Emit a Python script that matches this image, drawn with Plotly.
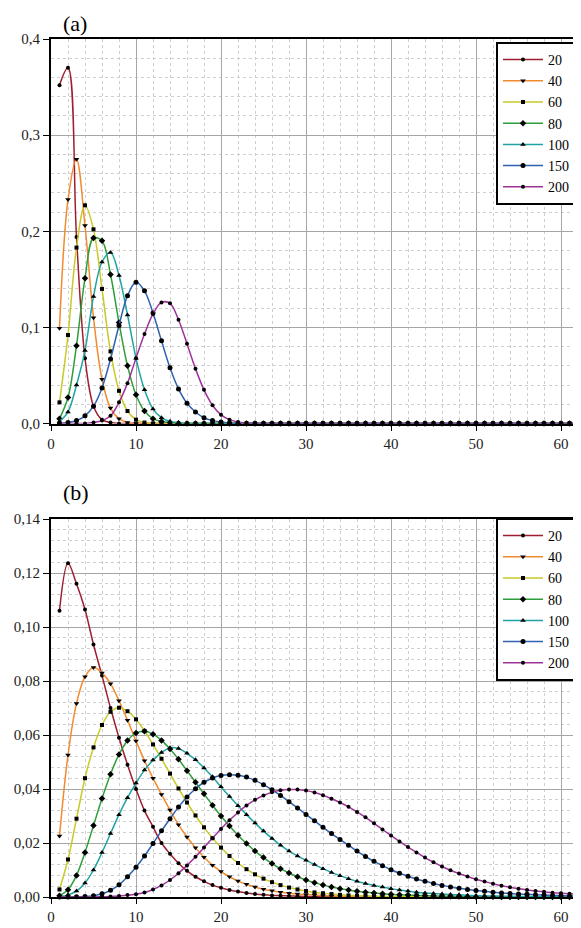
import plotly.graph_objects as go

x = list(range(1, 63))
names = ["20", "40", "60", "80", "100", "150", "200"]
colors = ["#9e1f2f", "#f28a2e", "#c9c928", "#2e9e3a", "#1fa3a3", "#2f62b0", "#a0329b"]
symbols = ["circle", "triangle-down", "square", "diamond", "triangle-up", "circle", "circle"]
msizes = [4, 5, 4, 5, 5, 5, 4]

# Panel (a)
a20 = [0.352, 0.370, 0.194, 0.068, 0.018, 0.004, 0.001,
       0, 0, 0, 0, 0, 0, 0, 0, 0, 0, 0, 0, 0, 0, 0, 0, 0, 0, 0, 0, 0, 0, 0, 0,
       0, 0, 0, 0, 0, 0, 0, 0, 0, 0, 0, 0, 0, 0, 0, 0, 0, 0, 0, 0, 0, 0, 0, 0,
       0, 0, 0, 0, 0, 0, 0]
a40 = [0.099, 0.233, 0.275, 0.206, 0.110, 0.046, 0.016, 0.005, 0.001,
       0, 0, 0, 0, 0, 0, 0, 0, 0, 0, 0, 0, 0, 0, 0, 0, 0, 0, 0, 0, 0, 0,
       0, 0, 0, 0, 0, 0, 0, 0, 0, 0, 0, 0, 0, 0, 0, 0, 0, 0, 0, 0, 0, 0, 0, 0,
       0, 0, 0, 0, 0, 0, 0]
a60 = [0.022, 0.092, 0.183, 0.227, 0.202, 0.140, 0.075, 0.034, 0.013, 0.004, 0.001,
       0, 0, 0, 0, 0, 0, 0, 0, 0, 0, 0, 0, 0, 0, 0, 0, 0, 0, 0, 0,
       0, 0, 0, 0, 0, 0, 0, 0, 0, 0, 0, 0, 0, 0, 0, 0, 0, 0, 0, 0, 0, 0, 0, 0,
       0, 0, 0, 0, 0, 0, 0]
a80 = [0.005, 0.027, 0.081, 0.151, 0.193, 0.190, 0.155, 0.105, 0.060, 0.030,
       0.013, 0.005, 0.002, 0.001,
       0, 0, 0, 0, 0, 0, 0, 0, 0, 0, 0, 0, 0, 0, 0, 0, 0,
       0, 0, 0, 0, 0, 0, 0, 0, 0, 0, 0, 0, 0, 0, 0, 0, 0, 0, 0, 0, 0, 0, 0, 0,
       0, 0, 0, 0, 0, 0, 0]
a100 = [0.002, 0.012, 0.040, 0.076, 0.132, 0.168, 0.178, 0.154, 0.113, 0.068,
        0.035, 0.015, 0.006, 0.002, 0.001,
        0, 0, 0, 0, 0, 0, 0, 0, 0, 0, 0, 0, 0, 0, 0, 0,
        0, 0, 0, 0, 0, 0, 0, 0, 0, 0, 0, 0, 0, 0, 0, 0, 0, 0, 0, 0, 0, 0, 0, 0,
        0, 0, 0, 0, 0, 0, 0]
a150 = [0, 0.001, 0.003, 0.008, 0.018, 0.037, 0.067, 0.102, 0.133, 0.147,
        0.138, 0.115, 0.086, 0.058, 0.036, 0.021, 0.012, 0.006, 0.003, 0.0015,
        0.0005,
        0, 0, 0, 0, 0, 0, 0, 0, 0, 0,
        0, 0, 0, 0, 0, 0, 0, 0, 0, 0, 0, 0, 0, 0, 0, 0, 0, 0, 0, 0, 0, 0, 0, 0,
        0, 0, 0, 0, 0, 0, 0]
a200 = [0, 0, 0, 0, 0.001, 0.003, 0.008, 0.022, 0.042, 0.068,
        0.093, 0.114, 0.126, 0.125, 0.108, 0.083, 0.057, 0.035, 0.019, 0.009,
        0.004, 0.0015, 0.0005,
        0, 0, 0, 0, 0, 0, 0, 0,
        0, 0, 0, 0, 0, 0, 0, 0, 0, 0, 0, 0, 0, 0, 0, 0, 0, 0, 0, 0, 0, 0, 0, 0,
        0, 0, 0, 0, 0, 0, 0]

# Panel (b)
b20 = [0.106, 0.1236, 0.116, 0.1065, 0.0935, 0.082, 0.070, 0.059, 0.049, 0.040,
       0.032, 0.026, 0.020, 0.016, 0.0125, 0.0097, 0.0075, 0.0058, 0.0044, 0.0034,
       0.0026, 0.0020, 0.0015, 0.0011, 0.0008, 0.0006, 0.0005, 0.0004, 0.0003, 0.0002,
       0.0002, 0.0001, 0.0001, 0.0001, 0, 0, 0, 0, 0, 0,
       0, 0, 0, 0, 0, 0, 0, 0, 0, 0, 0, 0, 0, 0, 0, 0, 0, 0, 0, 0, 0, 0]
b40 = [0.0226, 0.0526, 0.0717, 0.0816, 0.0850, 0.0830, 0.0790, 0.0727, 0.0655, 0.0578,
       0.0505, 0.0440, 0.0380, 0.0322, 0.0268, 0.0222, 0.0182, 0.0147, 0.0118, 0.0094,
       0.0075, 0.0059, 0.0047, 0.0037, 0.0029, 0.0023, 0.0018, 0.0014, 0.0011, 0.0009,
       0.0007, 0.0005, 0.0004, 0.0003, 0.0003, 0.0002, 0.0002, 0.0001, 0.0001, 0.0001,
       0, 0, 0, 0, 0, 0, 0, 0, 0, 0, 0, 0, 0, 0, 0, 0, 0, 0, 0, 0, 0, 0]
b60 = [0.0028, 0.0139, 0.0290, 0.0440, 0.0554, 0.0637, 0.0686, 0.0701, 0.0688, 0.0658,
       0.0615, 0.0565, 0.0512, 0.0457, 0.0402, 0.0350, 0.0302, 0.0258, 0.0218, 0.0183,
       0.0152, 0.0126, 0.0103, 0.0084, 0.0068, 0.0055, 0.0044, 0.0035, 0.0028, 0.0022,
       0.0017, 0.0014, 0.0011, 0.0008, 0.0006, 0.0005, 0.0004, 0.0003, 0.0002, 0.0002,
       0.0001, 0.0001, 0.0001, 0, 0, 0, 0, 0, 0, 0, 0, 0, 0, 0, 0, 0, 0, 0, 0, 0, 0, 0]
b80 = [0.0005, 0.0027, 0.0080, 0.0165, 0.0265, 0.0365, 0.0455, 0.0528, 0.0580, 0.0607,
       0.0614, 0.0603, 0.0580, 0.0548, 0.0510, 0.0468, 0.0425, 0.0382, 0.0340, 0.0300,
       0.0263, 0.0229, 0.0198, 0.0170, 0.0146, 0.0124, 0.0105, 0.0089, 0.0075, 0.0063,
       0.0053, 0.0044, 0.0037, 0.0031, 0.0026, 0.0021, 0.0018, 0.0015, 0.0012, 0.0010,
       0.0008, 0.0007, 0.0006, 0.0005, 0.0004, 0.0003, 0.0003, 0.0002, 0.0002, 0.0001,
       0.0001, 0.0001, 0, 0, 0, 0, 0, 0, 0, 0, 0, 0]
b100 = [0.0001, 0.0008, 0.0022, 0.0052, 0.0100, 0.0165, 0.0235, 0.0305, 0.0368, 0.0422,
        0.0470, 0.0507, 0.0535, 0.0553, 0.0550, 0.0532, 0.0508, 0.0478, 0.0445, 0.0408,
        0.0372, 0.0338, 0.0305, 0.0274, 0.0244, 0.0217, 0.0192, 0.0170, 0.0152, 0.0136,
        0.0120, 0.0105, 0.0091, 0.0079, 0.0068, 0.0058, 0.0050, 0.0043, 0.0037, 0.0031,
        0.0026, 0.0022, 0.0018, 0.0015, 0.0013, 0.0011, 0.0009, 0.0008, 0.0006, 0.0005,
        0.0004, 0.0004, 0.0003, 0.0003, 0.0002, 0.0002, 0.0001, 0.0001, 0.0001, 0.0001,
        0, 0]
b150 = [0, 0, 0.0001, 0.0002, 0.0005, 0.0012, 0.0025, 0.0045, 0.0075, 0.0110,
        0.0152, 0.0198, 0.0245, 0.0290, 0.0333, 0.0370, 0.0401, 0.0425, 0.0441, 0.0450,
        0.0453, 0.0451, 0.0444, 0.0432, 0.0416, 0.0397, 0.0376, 0.0353, 0.0330, 0.0306,
        0.0282, 0.0258, 0.0235, 0.0213, 0.0192, 0.0170, 0.0150, 0.0132, 0.0116, 0.0101,
        0.0088, 0.0077, 0.0067, 0.0058, 0.0050, 0.0043, 0.0037, 0.0032, 0.0028, 0.0024,
        0.0021, 0.0018, 0.0015, 0.0013, 0.0011, 0.0010, 0.0008, 0.0007, 0.0006, 0.0005,
        0.0004, 0.0004]
b200 = [0, 0, 0, 0, 0, 0.0001, 0.0002, 0.0004, 0.0007, 0.0010,
        0.0017, 0.0028, 0.0043, 0.0063, 0.0088, 0.0117, 0.0149, 0.0183, 0.0218, 0.0252,
        0.0284, 0.0313, 0.0339, 0.0360, 0.0376, 0.0388, 0.0395, 0.0398, 0.0398, 0.0394,
        0.0387, 0.0377, 0.0364, 0.0350, 0.0334, 0.0315, 0.0295, 0.0273, 0.0250, 0.0228,
        0.0206, 0.0185, 0.0165, 0.0146, 0.0129, 0.0113, 0.0099, 0.0087, 0.0076, 0.0066,
        0.0057, 0.0049, 0.0042, 0.0036, 0.0031, 0.0026, 0.0022, 0.0019, 0.0016, 0.0014,
        0.0012, 0.0010]

series_a = [a20, a40, a60, a80, a100, a150, a200]
series_b = [b20, b40, b60, b80, b100, b150, b200]

FONT = "Liberation Serif, Times New Roman, DejaVu Serif, Noto Serif, serif"
# page body has an 8px margin: figure is placed at (8, 8)
OFF = 8
W, H = 581 - OFF, 928 - OFF
ML, MR, MT, MB = 51 - OFF, 0, 39 - OFF, 31
plot_h = H - MT - MB
plot_w = W - ML - MR

def py(p):
    # reference page pixel y -> paper fraction
    return (928 - MB - p) / plot_h

def px(p):
    return (p - 51) / plot_w

fig = go.Figure()
for i in range(7):
    fig.add_trace(go.Scatter(
        x=x, y=series_a[i], name=names[i], mode="lines+markers",
        line=dict(color=colors[i], width=1.5, shape="spline", smoothing=1.0),
        marker=dict(color="black", symbol=symbols[i], size=msizes[i]),
        xaxis="x", yaxis="y", legend="legend", cliponaxis=False))
for i in range(7):
    fig.add_trace(go.Scatter(
        x=x, y=series_b[i], name=names[i], mode="lines+markers",
        line=dict(color=colors[i], width=1.5, shape="spline", smoothing=1.0),
        marker=dict(color="black", symbol=symbols[i], size=msizes[i]),
        xaxis="x2", yaxis="y2", legend="legend2", cliponaxis=False))

xrange_ = [0, plot_w / 8.5]
common_x = dict(range=xrange_, dtick=10, tick0=0, showgrid=True, gridcolor="#a6a6a6",
                gridwidth=1, showline=True, linecolor="black", linewidth=2, mirror=True,
                ticks="outside", ticklen=5, tickcolor="black", zeroline=False,
                tickfont=dict(family=FONT, size=15, color="#222"),
                minor=dict(dtick=2, showgrid=True, gridcolor="#cfcfcf", griddash="dot",
                           gridwidth=1))
common_y = dict(showgrid=True, gridcolor="#a6a6a6", gridwidth=1, showline=True,
                linecolor="black", linewidth=2, ticks="outside", ticklen=6,
                tickcolor="black", zeroline=False,
                tickfont=dict(family=FONT, size=15, color="#222"))

dom_a = [py(423.5), 1.0]
dom_b = [0.0, py(519)]

leg_common = dict(xanchor="left", yanchor="top", bgcolor="white", bordercolor="black",
                  borderwidth=2, font=dict(family=FONT, size=14, color="black"),
                  tracegroupgap=0, itemwidth=40)

fig.update_layout(
    width=W, height=H, margin=dict(l=ML, r=MR, t=MT, b=MB),
    paper_bgcolor="white", plot_bgcolor="white", separators=",.",
    font=dict(family=FONT),
    xaxis=dict(**common_x, domain=[0, 1], anchor="y"),
    yaxis=dict(**common_y, domain=dom_a, range=[0, 0.4], dtick=0.1, tickformat=".1f",
               minor=dict(dtick=0.02, showgrid=True, gridcolor="#cfcfcf", griddash="dot")),
    xaxis2=dict(**common_x, domain=[0, 1], anchor="y2"),
    yaxis2=dict(**common_y, domain=dom_b, range=[0, 0.14], dtick=0.02, tickformat=".2f",
                minor=dict(dtick=0.004, showgrid=True, gridcolor="#cfcfcf", griddash="dot")),
    legend=dict(x=px(496), y=py(42), **leg_common),
    legend2=dict(x=px(496), y=py(518), **leg_common),
    annotations=[
        dict(text="(a)", x=px(61), y=py(9), xref="paper", yref="paper",
             xanchor="left", yanchor="top", showarrow=False,
             font=dict(family=FONT, size=22, color="black")),
        dict(text="(b)", x=px(61), y=py(493), xref="paper", yref="paper",
             xanchor="left", yanchor="middle", showarrow=False,
             font=dict(family=FONT, size=22, color="black")),
    ],
)

fig.write_html("out.html")
